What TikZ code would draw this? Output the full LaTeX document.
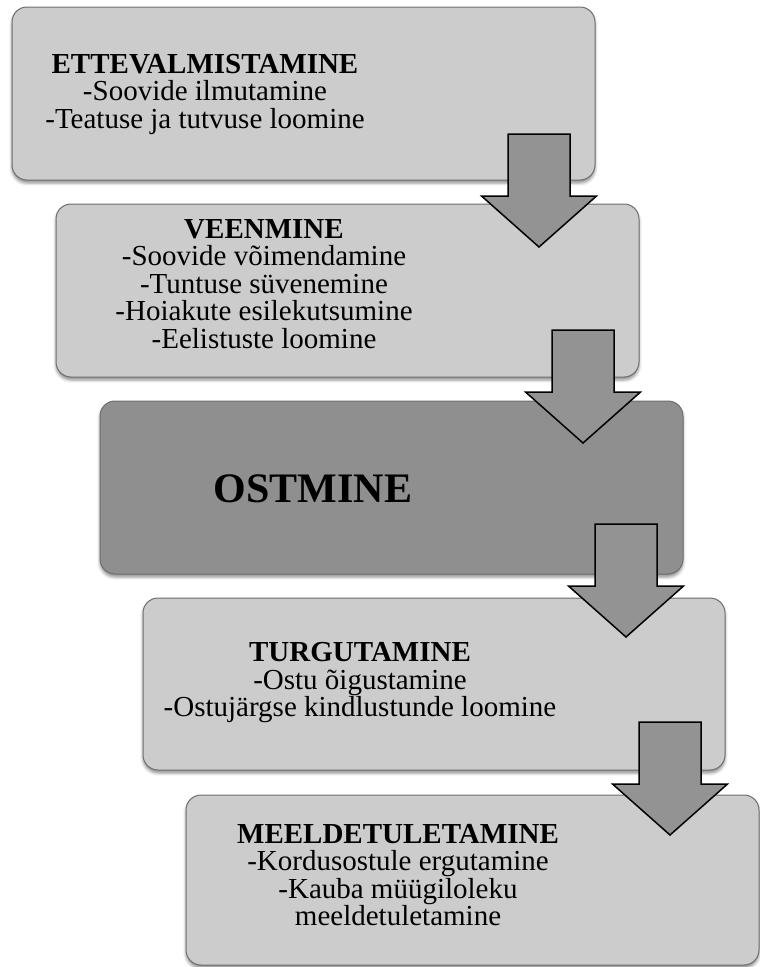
\documentclass[tikz,border=0pt]{standalone}
\usepackage{fontspec}
\setmainfont{Liberation Serif}
\usetikzlibrary{shadows.blur}
\definecolor{boxgray}{HTML}{CCCCCC}
\definecolor{buygray}{HTML}{8F8F8F}
\definecolor{edgegray}{HTML}{6E6E6E}
\definecolor{arrowgray}{HTML}{939393}
\tikzset{
  stage/.style={draw=edgegray,line width=1pt,fill=boxgray,rounded corners=15pt,minimum width=583pt,minimum height=173pt,inner sep=0pt,
    blur shadow={shadow xshift=0pt,shadow yshift=-3pt,shadow blur radius=3pt,shadow opacity=45}},
  stagetxt/.style={align=center,inner sep=0pt,font=\fontsize{29}{27.5}\selectfont},
  pics/downarrow/.style={code={\draw[line width=1.5pt,fill=arrowgray,line join=miter](-31,0)--(31,0)--(31,62)--(57.5,62)--(0,113)--(-57.5,62)--(-31,62)--cycle;}}
}
\begin{document}
\begin{tikzpicture}[x=1pt,y=-1pt]
\useasboundingbox(0,0)rectangle(760,967);
% stages
\node[stage](b1)at(303.5,93.5){};\node[stagetxt](t1)at(205,94){\textbf{ETTEVALMISTAMINE}\\-Soovide ilmutamine\\-Teatuse ja tutvuse loomine};
\node[stage](b2)at(347.5,290.5){};\node[stagetxt](t2)at(264,284){\textbf{VEENMINE}\\-Soovide võimendamine\\-Tuntuse süvenemine\\-Hoiakute esilekutsumine\\-Eelistuste loomine};
\node[stage,fill=buygray](b3)at(391.5,487.5){};\node[stagetxt,font=\fontsize{42}{44}\selectfont\bfseries](t3)at(313,489){OSTMINE};
\node[stage,minimum width=582pt,minimum height=172pt](b4)at(434,684){};\node[stagetxt](t4)at(360,683){\textbf{TURGUTAMINE}\\-Ostu õigustamine\\-Ostujärgse kindlustunde loomine};
\node[stage,minimum width=573pt,minimum height=170pt](b5)at(472.5,880){};\node[stagetxt](t5)at(398,875){\textbf{MEELDETULETAMINE}\\-Kordusostule ergutamine\\-Kauba müügiloleku\\meeldetuletamine};
% arrows
\pic at(539,134){downarrow};\pic at(583,330){downarrow};\pic at(626,524){downarrow};\pic at(670,722){downarrow};
\end{tikzpicture}
\end{document}
